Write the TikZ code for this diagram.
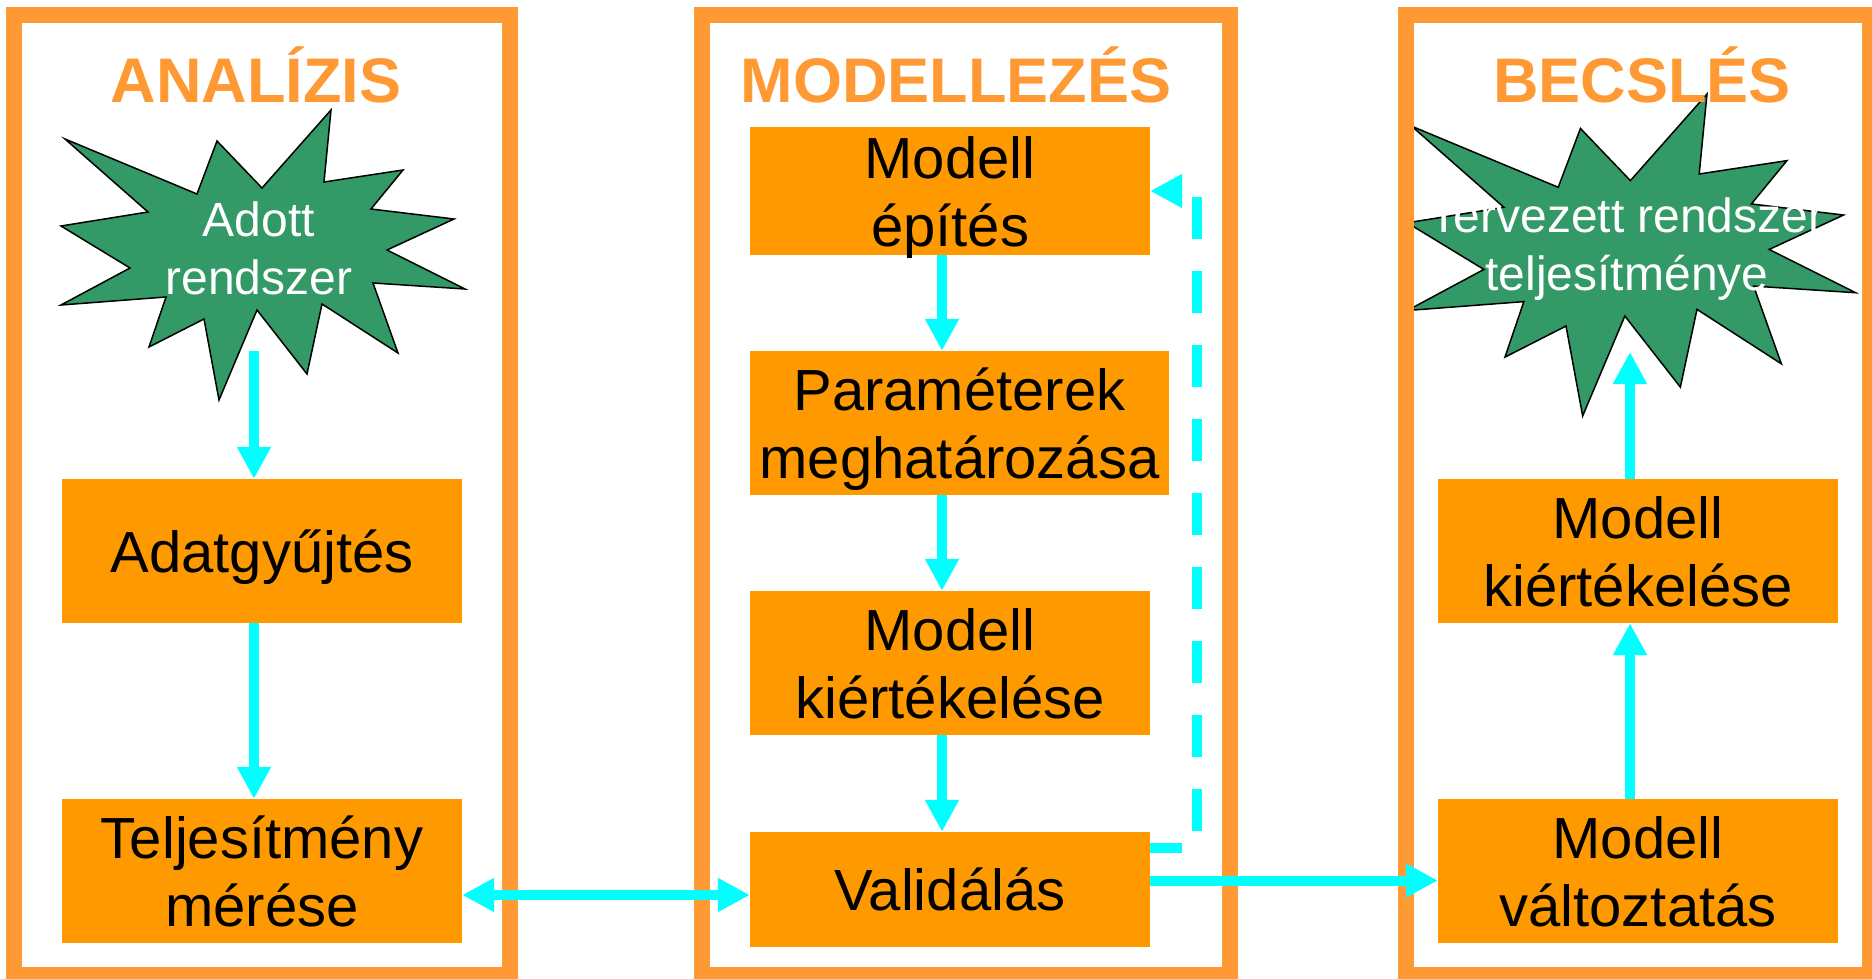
\documentclass[tikz,border=0pt]{standalone}
\usepackage{fontspec}
\setmainfont{Liberation Sans}
\usetikzlibrary{arrows.meta}

\definecolor{frameorange}{HTML}{FF9933}
\definecolor{boxorange}{HTML}{FF9900}
\definecolor{burstgreen}{HTML}{339966}
\definecolor{flowcyan}{HTML}{00FFFF}

% explosion shape around a centre, with a scale
\newcommand{\burst}[2]{%
  \draw[burst, shift={#1}, scale=#2]
    (-198,-116) -- (-66,-61) -- (-46,-114) -- (-1,-67) -- (68,-145) -- (61,-73)
    -- (140,-85) -- (108,-46) -- (191,-36) -- (124,-5) -- (202,34) -- (110,28)
    -- (135,98) -- (59,49) -- (44,119) -- (-6,55) -- (-44,145) -- (-59,64)
    -- (-114,92) -- (-97,42) -- (-202,50) -- (-133,13) -- (-202,-29) -- (-115,-43) -- cycle;}

\begin{document}
\begin{tikzpicture}[
    x=1pt, y=-1pt,
    >={Triangle[length=32pt, width=32pt]},
    box/.style={rectangle, fill=boxorange, minimum width=400pt, minimum height=144pt, inner sep=0pt, text depth=0pt, align=center, font=\fontsize{58}{68}\selectfont},
    title/.style={anchor=base, text=frameorange, font=\fontsize{63}{70}\selectfont\bfseries},
    burst/.style={draw=black, line width=1.5pt, fill=burstgreen},
    bursttext/.style={align=center, text=white, font=\fontsize{48}{58}\selectfont},
    frame/.style={draw=frameorange, line width=16pt},
    arrow/.style={->, flowcyan, line width=10pt},
    feedback/.style={arrow, dash pattern=on 42pt off 32pt, dash phase=10pt}
]
\path[use as bounding box, fill=white] (0,0) rectangle (1872,979);

% Explosions
\burst{(263,255)}{1}
\burst{(1631.5,255)}{1.11}
\node[bursttext] (adott) at (259,248) {Adott\\rendszer};
\node[bursttext] (tervezett) at (1627,249.5) {Tervezett rendszer\\teljesítménye};
\coordinate (adott-out) at (254,351);
\coordinate (becsles-in) at (1630,352);

% Frames
\draw[frame] (14,15) rectangle (510,975);
\draw[frame] (702,15) rectangle (1230,975);
\draw[frame] (1406,15) rectangle (1870,975);

% Titles
\node[title] (analizis) at (256,103) {ANALÍZIS};
\node[title] (modellezes) at (956,103) {MODELLEZÉS};
\node[title] (becsles) at (1642,103) {BECSLÉS};

% Analysis column
\node[box] (adat) at (262,551) {Adatgyűjtés};
\node[box] (telj) at (262,871) {Teljesítmény\\mérése};

% Modelling column
\node[box, minimum height=128pt] (epit) at (950,191) {Modell\\építés};
\node[box, minimum width=419pt] (param) at (959.5,423) {Paraméterek\\meghatározása};
\node[box] (kiert) at (950,663) {Modell\\kiértékelése};
\node[box, minimum height=115pt] (valid) at (950,889.5) {Validálás};

% Estimation column
\node[box] (ertek) at (1638,551) {Modell\\kiértékelése};
\node[box] (valt) at (1638,871) {Modell\\változtatás};

% Connections
\draw[arrow] (adott-out) -- ([xshift=-8pt]adat.north);
\draw[arrow] ([xshift=-8pt]adat.south) -- ([xshift=-8pt]telj.north);
\draw[arrow] ([xshift=-8pt]epit.south) -- ([xshift=-8pt]epit.south |- param.north);
\draw[arrow] ([xshift=-8pt]kiert.north |- param.south) -- ([xshift=-8pt]kiert.north);
\draw[arrow] ([xshift=-8pt]kiert.south) -- ([xshift=-8pt]valid.north);
\draw[arrow, <->] ([yshift=-24pt]telj.east) -- ([yshift=-24pt]telj.east -| valid.west);
\draw[arrow] ([yshift=9pt]valid.east) -- ([yshift=9pt]valid.east -| valt.west);
\draw[feedback] ([yshift=42pt]valid.east) -- ++(47,0) |- (epit.east);
\draw[arrow] ([xshift=-8pt]valt.north) -- ([xshift=-8pt]ertek.south);
\draw[arrow] ([xshift=-8pt]ertek.north) -- (becsles-in);

\end{tikzpicture}
\end{document}
